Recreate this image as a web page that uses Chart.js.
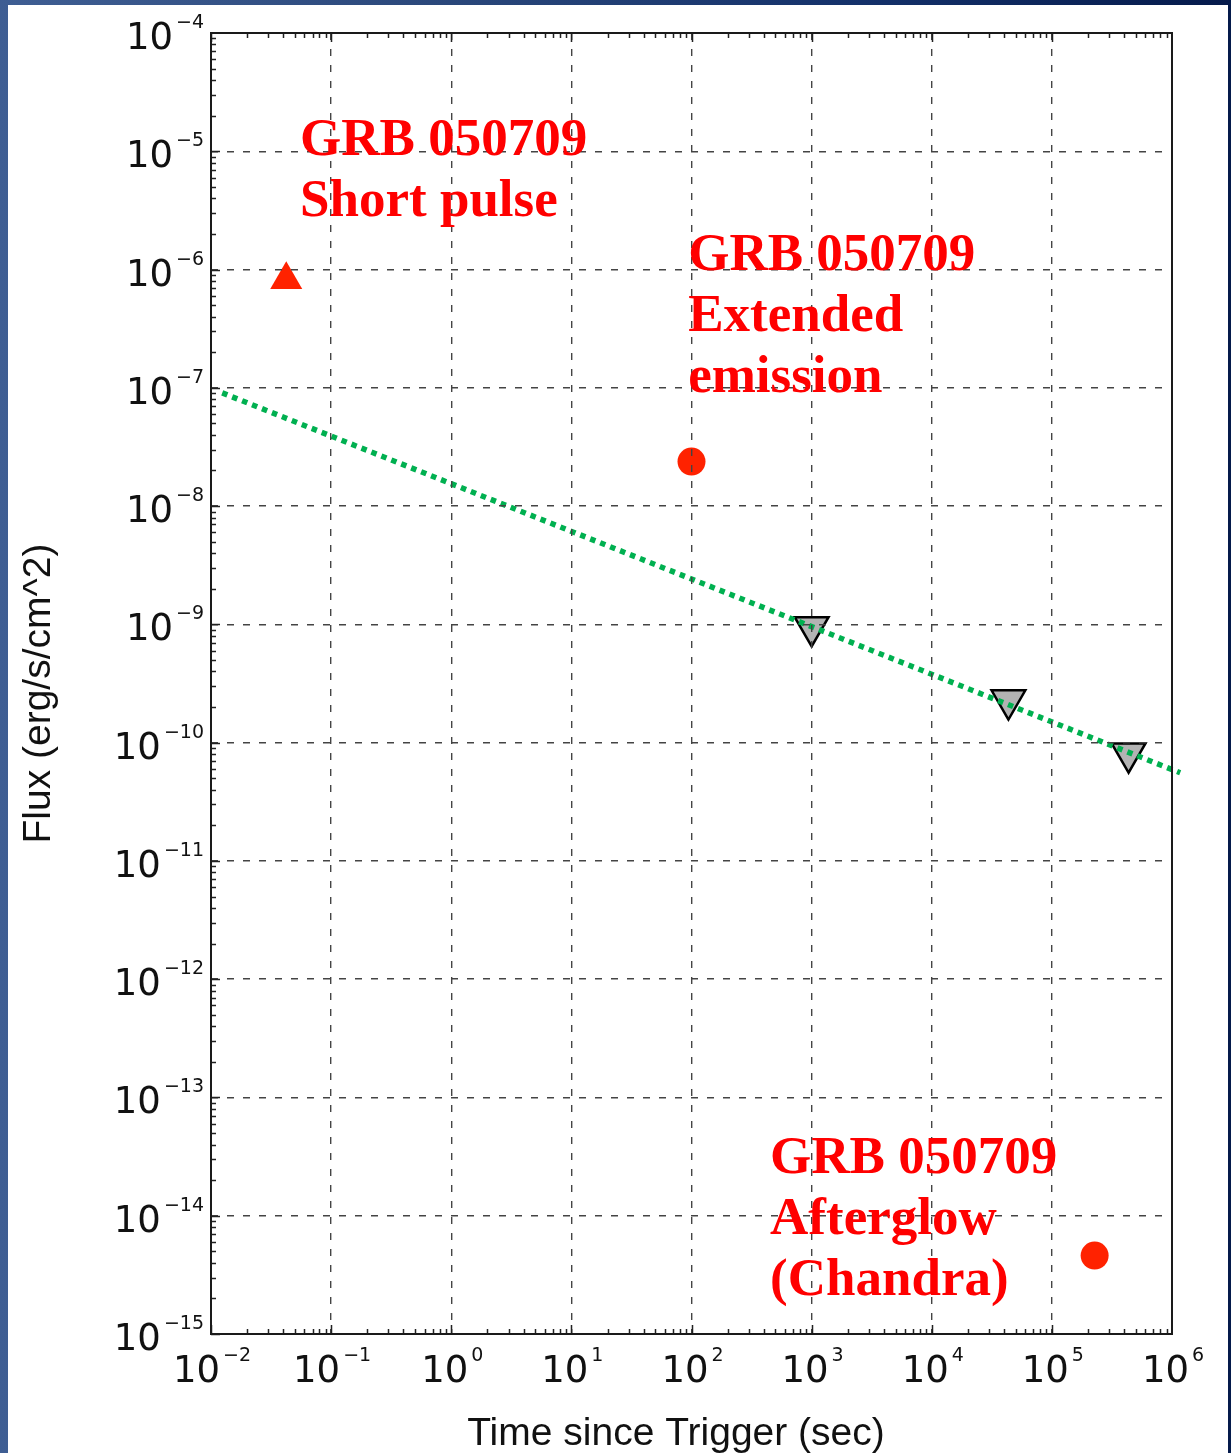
<!DOCTYPE html>
<html>
<head>
<meta charset="utf-8">
<script src="https://cdn.jsdelivr.net/npm/chart.js@4.4.1/dist/chart.umd.min.js"></script>
<style>
  html, body { margin: 0; padding: 0; width: 1231px; height: 1453px; overflow: hidden; }
  body {
    position: relative;
    background: linear-gradient(90deg, #3f5e93 0%, #2b487b 35%, #14316a 70%, #051a4b 100%);
  }
  #panel { position: absolute; left: 8px; top: 5px; width: 1220px; height: 1448px; background: #ffffff; }
  canvas { display: block; }
</style>
</head>
<body>
<div id="panel"><canvas id="lc" width="1220" height="1448"></canvas></div>
<script>
// GRB 050709 light curve: flux versus time since trigger
const shortPulseTime = [0.0423];
const shortPulseFlux = [8.2e-7];
const extendedTime = [100];
const extendedFlux = [2.38e-8];
const afterglowTime = [2.27e5];
const afterglowFlux = [4.6e-15];
const limitTime = [1000, 4.35e4, 4.35e5];
const limitFlux = [9.5e-10, 2.29e-10, 8.15e-11];
const decayTime = [0.0124, 1.17e6];
const decayFlux = [9.06e-8, 5.56e-11];

const xExponents = [-2, -1, 0, 1, 2, 3, 4, 5, 6];
const yExponents = [-4, -5, -6, -7, -8, -9, -10, -11, -12, -13, -14, -15];

const shortPulseText = ['GRB 050709', 'Short pulse'];
const extendedText = ['GRB 050709', 'Extended', 'emission'];
const afterglowText = ['GRB 050709', 'Afterglow', '(Chandra)'];
// anchor of each text block: [time, flux] of the first baseline's left end
const textAnchors = [[0.0551, 9.3e-6], [93.8, 9.9e-7], [451, 2.3e-14]];
const textBlocks = [shortPulseText, extendedText, afterglowText];

const pts = (xs, ys) => xs.map((v, i) => ({ x: v, y: ys[i] }));
const decades = exps => exps.map(e => ({ value: Math.pow(10, e) }));

const RED = '#ff2200';

function drawPower(ctx, exp, x, baseline, align) {
  const base = '10';
  const sup = exp < 0 ? '\u2212' + (-exp) : String(exp);
  ctx.font = '37px "DejaVu Sans"';
  const wb = ctx.measureText(base).width;
  ctx.font = '19px "DejaVu Sans"';
  const ws = ctx.measureText(sup).width;
  const gap = 3;
  const total = wb + gap + ws;
  const left = align === 'right' ? x - total : x - total / 2;
  ctx.textAlign = 'left';
  ctx.textBaseline = 'alphabetic';
  ctx.font = '37px "DejaVu Sans"';
  ctx.fillText(base, left, baseline);
  ctx.font = '19px "DejaVu Sans"';
  ctx.fillText(sup, left + wb + gap, baseline - 21);
}

const frameAndLabels = {
  id: 'frameAndLabels',
  afterDraw(chart) {
    const { ctx, chartArea: a, scales: { x, y } } = chart;
    ctx.save();

    // inner tick marks (decades long, minors short)
    ctx.strokeStyle = '#222';
    ctx.lineWidth = 1.5;
    ctx.beginPath();
    for (let e = xExponents[0]; e < xExponents[xExponents.length - 1]; e++) {
      for (let k = 1; k <= 9; k++) {
        const px = Math.round(x.getPixelForValue(k * Math.pow(10, e))) + 0.5;
        const len = k === 1 ? 9 : 5;
        ctx.moveTo(px, a.bottom); ctx.lineTo(px, a.bottom - len);
        ctx.moveTo(px, a.top); ctx.lineTo(px, a.top + len);
      }
    }
    const yLow = yExponents[yExponents.length - 1], yHigh = yExponents[0];
    for (let e = yLow; e < yHigh; e++) {
      for (let k = 1; k <= 9; k++) {
        const py = Math.round(y.getPixelForValue(k * Math.pow(10, e))) + 0.5;
        const len = k === 1 ? 9 : 5;
        ctx.moveTo(a.left, py); ctx.lineTo(a.left + len, py);
      }
    }
    ctx.stroke();

    // plot frame
    ctx.strokeStyle = '#1a1a1a';
    ctx.lineWidth = 2;
    ctx.strokeRect(a.left, a.top, a.right - a.left, a.bottom - a.top);

    // tick labels as powers of ten
    ctx.fillStyle = '#111';
    xExponents.forEach(e => {
      const px = x.getPixelForValue(Math.pow(10, e));
      drawPower(ctx, e, px + 1, a.bottom + 48, 'center');
    });
    yExponents.forEach(e => {
      const py = y.getPixelForValue(Math.pow(10, e));
      drawPower(ctx, e, a.left - 7, py + 16, 'right');
    });

    // axis titles
    ctx.font = '39px "Liberation Sans"';
    ctx.textAlign = 'center';
    ctx.textBaseline = 'alphabetic';
    ctx.fillText('Time since Trigger (sec)', 668, a.bottom + 111);
    ctx.save();
    ctx.translate(42, (a.top + a.bottom) / 2 + 10);
    ctx.rotate(-Math.PI / 2);
    ctx.fillText('Flux (erg/s/cm^2)', 0, 0);
    ctx.restore();

    // annotations
    ctx.fillStyle = '#ff0000';
    ctx.font = 'bold 53px "Liberation Serif"';
    ctx.textAlign = 'left';
    textBlocks.forEach((lines, i) => {
      const tx = x.getPixelForValue(textAnchors[i][0]);
      const ty = y.getPixelForValue(textAnchors[i][1]);
      lines.forEach((line, j) => ctx.fillText(line, tx, ty + j * 61));
    });

    ctx.restore();
  }
};

new Chart(document.getElementById('lc'), {
  type: 'scatter',
  data: {
    datasets: [
      {
        label: 'Power-law decay',
        data: pts(decayTime, decayFlux),
        showLine: true,
        pointRadius: 0,
        borderColor: '#00b050',
        borderWidth: 5.5,
        borderDash: [5.5, 5.2],
        borderCapStyle: 'butt',
        clip: false
      },
      {
        label: 'Upper limits',
        data: pts(limitTime, limitFlux),
        pointStyle: 'triangle',
        rotation: 180,
        pointRadius: 19.5,
        backgroundColor: '#b3b3b3',
        borderColor: '#000000',
        borderWidth: 2.5
      },
      {
        label: 'Short pulse',
        data: pts(shortPulseTime, shortPulseFlux),
        pointStyle: 'triangle',
        pointRadius: 18.5,
        backgroundColor: RED,
        borderWidth: 0
      },
      {
        label: 'Extended emission',
        data: pts(extendedTime, extendedFlux),
        pointStyle: 'circle',
        pointRadius: 14,
        backgroundColor: RED,
        borderWidth: 0
      },
      {
        label: 'Afterglow (Chandra)',
        data: pts(afterglowTime, afterglowFlux),
        pointStyle: 'circle',
        pointRadius: 14,
        backgroundColor: RED,
        borderWidth: 0
      }
    ]
  },
  options: {
    responsive: false,
    animation: false,
    events: [],
    layout: { padding: { left: 203, right: 56, top: 28, bottom: 119 } },
    plugins: { legend: { display: false }, tooltip: { enabled: false } },
    scales: {
      x: {
        type: 'logarithmic',
        min: 1e-2,
        max: 1e6,
        afterBuildTicks: s => { s.ticks = decades(xExponents); },
        ticks: { display: false },
        grid: { color: '#444', lineWidth: 1.4, drawTicks: false, z: 1 },
        border: { display: false, dash: [7, 9] }
      },
      y: {
        type: 'logarithmic',
        min: 1e-15,
        max: 1e-4,
        afterBuildTicks: s => { s.ticks = decades(yExponents); },
        ticks: { display: false },
        grid: { color: '#444', lineWidth: 1.4, drawTicks: false, z: 1 },
        border: { display: false, dash: [7, 9] }
      }
    }
  },
  plugins: [frameAndLabels]
});
</script>
</body>
</html>
